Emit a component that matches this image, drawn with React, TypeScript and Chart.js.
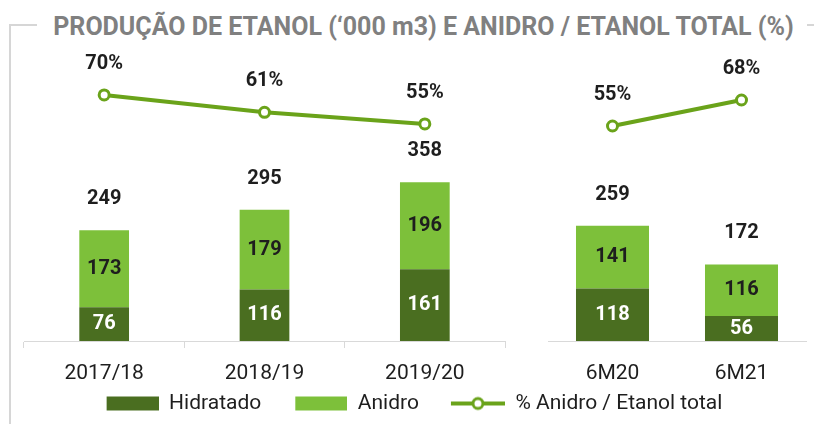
import React, { useEffect, useRef } from 'react';
import { Chart, registerables } from 'chart.js';

Chart.register(...registerables);

// ---- data ----
const categories = ['2017/18', '2018/19', '2019/20', '6M20', '6M21'];
const hidratado = [76, 116, 161, 118, 56];
const anidro = [173, 179, 196, 141, 116];
const totals = [249, 295, 358, 259, 172];
const pctAnidro = [70, 61, 55, 55, 68];
const splitAt = 3; // first panel: annual, second panel: semester
const seriesNames = ['Hidratado', 'Anidro', '% Anidro / Etanol total'];
const chartTitle = 'PRODUÇÃO DE ETANOL (‘000 m3) E ANIDRO / ETANOL TOTAL (%)';

// ---- styles ----
const DARK = '#4a6e20';
const LIGHT = '#7dc03a';
const LINE = '#6aa31a';
const TEXT = '#1e1e1e';
const GRID = '#d9d9d9';
const FONT = 'Roboto, sans-serif';

const labelPlugin = {
  id: 'valueLabels',
  afterDatasetsDraw(chart: any) {
    const ctx = chart.ctx;
    ctx.save();
    ctx.textAlign = 'center';
    ctx.textBaseline = 'middle';
    chart.data.datasets.forEach((ds: any, di: number) => {
      const meta = chart.getDatasetMeta(di);
      if (meta.hidden) return;
      meta.data.forEach((el: any, i: number) => {
        const v = ds.data[i];
        ctx.font = `bold 20px ${FONT}`;
        if (ds.type === 'line') {
          ctx.fillStyle = TEXT;
          ctx.fillText(v + '%', el.x, el.y - 31);
        } else {
          ctx.fillStyle = ds.labelColor;
          ctx.fillText(String(v), el.x, (el.y + el.base) / 2);
          if (ds.totalLabels) {
            ctx.fillStyle = TEXT;
            ctx.fillText(String(ds.totalLabels[i]), el.x, el.y - 31);
          }
        }
      });
    });
    ctx.restore();
  },
};

// legend icons: transparent lead-in on the left gives the gap between items
function boxIcon(color: string) {
  const c = document.createElement('canvas');
  c.width = 77;
  c.height = 16;
  const g = c.getContext('2d')!;
  g.fillStyle = color;
  g.fillRect(25, 1, 52, 14);
  return c;
}

function lineIcon() {
  const c = document.createElement('canvas');
  c.width = 77;
  c.height = 16;
  const g = c.getContext('2d')!;
  g.strokeStyle = LINE;
  g.lineWidth = 4;
  g.beginPath();
  g.moveTo(23, 8);
  g.lineTo(77, 8);
  g.stroke();
  g.beginPath();
  g.arc(50, 8, 5, 0, Math.PI * 2);
  g.fillStyle = '#fff';
  g.fill();
  g.lineWidth = 3;
  g.stroke();
  return c;
}

function buildConfig(side: 'left' | 'right'): any {
  const left = side === 'left';
  const from = left ? 0 : splitAt;
  const to = left ? splitAt : categories.length;
  return {
    type: 'bar',
    data: {
      labels: categories.slice(from, to),
      datasets: [
        {
          type: 'line',
          label: seriesNames[2],
          data: pctAnidro.slice(from, to),
          yAxisID: 'y1',
          borderColor: LINE,
          borderWidth: 4,
          pointRadius: 5,
          pointBorderWidth: 3,
          pointBackgroundColor: '#ffffff',
          pointBorderColor: LINE,
          tension: 0,
          order: 0,
        },
        {
          type: 'bar',
          label: seriesNames[0],
          data: hidratado.slice(from, to),
          backgroundColor: DARK,
          labelColor: '#ffffff',
          yAxisID: 'y',
          stack: 's',
          order: 1,
          barPercentage: left ? 0.31 : 0.566,
          categoryPercentage: 1,
        },
        {
          type: 'bar',
          label: seriesNames[1],
          data: anidro.slice(from, to),
          backgroundColor: LIGHT,
          labelColor: TEXT,
          totalLabels: totals.slice(from, to),
          yAxisID: 'y',
          stack: 's',
          order: 1,
          barPercentage: left ? 0.31 : 0.566,
          categoryPercentage: 1,
        },
      ],
    },
    options: {
      responsive: true,
      maintainAspectRatio: false,
      animation: false,
      events: [],
      layout: {
        autoPadding: false,
        padding: left
          ? { left: 0, top: 50, right: 10, bottom: 0 }
          : { left: 0, top: 50, right: 0, bottom: 40 },
      },
      scales: {
        x: {
          stacked: true,
          offset: true,
          grid: {
            display: true,
            drawOnChartArea: false,
            drawTicks: left,
            tickLength: 7,
            color: GRID,
            offset: true,
          },
          border: { display: true, color: GRID, width: 1 },
          ticks: {
            color: TEXT,
            font: { family: FONT, size: 21 },
            padding: left ? 13 : 20,
            maxRotation: 0,
            autoSkip: false,
          },
          afterFit: (s: any) => {
            s.height = 43;
          },
        },
        y: {
          stacked: true,
          min: 0,
          max: 654,
          position: 'left',
          grid: { display: false },
          border: { display: false },
          ticks: { display: false },
          afterFit: (s: any) => {
            s.width = left ? 24 : 548;
          },
        },
        y1: {
          min: left ? -57.5 : -52.5,
          max: left ? 93.3 : 93,
          position: 'right',
          grid: { display: false },
          border: { display: false },
          ticks: { display: false },
          afterFit: (s: any) => {
            s.width = left ? 299 : 8;
          },
        },
      },
      plugins: {
        tooltip: { enabled: false },
        legend: {
          display: left,
          position: 'bottom',
          labels: {
            usePointStyle: true,
            pointStyleWidth: 77,
            boxHeight: 14,
            padding: 9,
            color: TEXT,
            font: { family: FONT, size: 21 },
            generateLabels: () => [
              { text: seriesNames[0], pointStyle: boxIcon(DARK), fillStyle: DARK, strokeStyle: DARK, lineWidth: 0, hidden: false, datasetIndex: 1, fontColor: TEXT },
              { text: seriesNames[1], pointStyle: boxIcon(LIGHT), fillStyle: LIGHT, strokeStyle: LIGHT, lineWidth: 0, hidden: false, datasetIndex: 2, fontColor: TEXT },
              { text: seriesNames[2], pointStyle: lineIcon(), fillStyle: '#fff', strokeStyle: LINE, lineWidth: 0, hidden: false, datasetIndex: 0, fontColor: TEXT },
            ],
          },
        },
      },
    },
    plugins: [labelPlugin],
  };
}

function ChartCanvas({ side }: { side: 'left' | 'right' }) {
  const ref = useRef<HTMLCanvasElement>(null);
  useEffect(() => {
    const chart = new Chart(ref.current!, buildConfig(side));
    return () => chart.destroy();
  }, [side]);
  return (
    <div style={{ position: 'absolute', left: 0, top: 0, width: 814, height: 424 }}>
      <canvas ref={ref} />
    </div>
  );
}

export default function App() {
  return (
    <div
      style={{
        position: 'fixed',
        left: 0,
        top: 0,
        width: 814,
        height: 424,
        background: '#ffffff',
        overflow: 'hidden',
      }}
    >
      <div style={{ position: 'absolute', left: 9, top: 24, width: 28, height: 2, background: '#d6d6d6' }} />
      <div style={{ position: 'absolute', left: 9, top: 24, width: 2, height: 400, background: '#d6d6d6' }} />
      <div style={{ position: 'absolute', left: 807, top: 24, width: 7, height: 2, background: '#d6d6d6' }} />
      <div
        style={{
          position: 'absolute',
          left: 23.5,
          top: 13,
          width: 800,
          textAlign: 'center',
          font: `bold 25px ${FONT}`,
          lineHeight: '28px',
          color: '#808080',
          whiteSpace: 'nowrap',
        }}
      >
        {chartTitle}
      </div>
      <ChartCanvas side="left" />
      <ChartCanvas side="right" />
    </div>
  );
}
